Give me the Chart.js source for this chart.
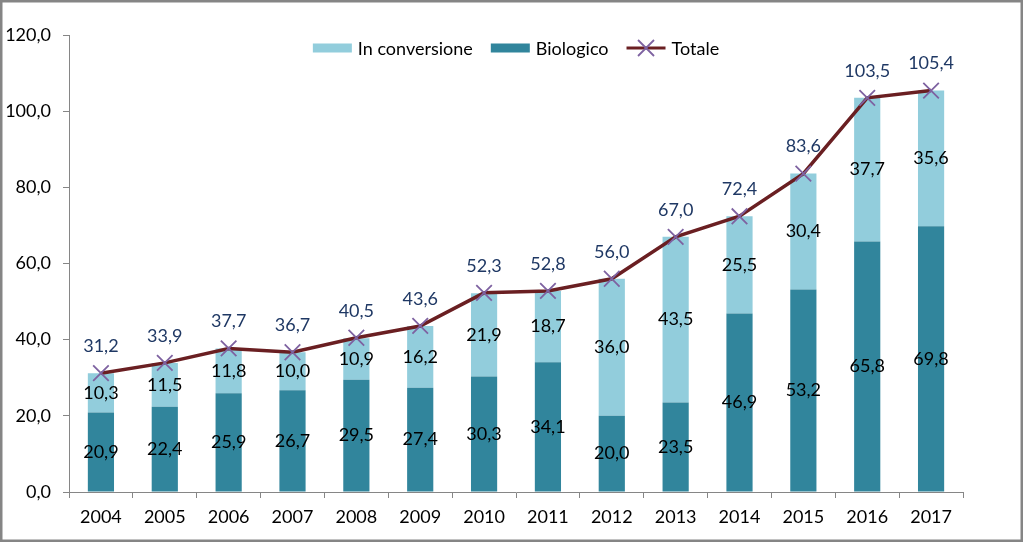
<!DOCTYPE html>
<html>
<head>
<meta charset="utf-8">
<script src="https://cdn.jsdelivr.net/npm/chart.js@4.4.1/dist/chart.umd.min.js"></script>
<style>
html,body{margin:0;padding:0;background:#fff;}
canvas{display:block;}
</style>
</head>
<body>
<canvas id="c" width="1024" height="543"></canvas>
<script>
const categories = ['2004','2005','2006','2007','2008','2009','2010','2011','2012','2013','2014','2015','2016','2017'];
const biologico = [20.9,22.4,25.9,26.7,29.5,27.4,30.3,34.1,20.0,23.5,46.9,53.2,65.8,69.8];
const inConversione = [10.3,11.5,11.8,10.0,10.9,16.2,21.9,18.7,36.0,43.5,25.5,30.4,37.7,35.6];
const totale = [31.2,33.9,37.7,36.7,40.5,43.6,52.3,52.8,56.0,67.0,72.4,83.6,103.5,105.4];
const yTicks = [0,20,40,60,80,100,120];

const FONT = 'Lato';
const FS = 18;
const fmt = v => v.toFixed(1).replace('.', ',');
const C_CONV = '#92CDDC', C_BIO = '#31859C', C_LINE = '#6A1F22', C_MARK = '#7E62A1', C_TOT = '#1F3864';

const labelsPlugin = {
  id: 'labelsPlugin',
  afterDatasetsDraw(chart) {
    const ctx = chart.ctx;
    ctx.save();
    ctx.font = FS + 'px ' + FONT;
    ctx.textAlign = 'center';
    ctx.textBaseline = 'middle';
    [0,1].forEach(di => {
      const meta = chart.getDatasetMeta(di);
      meta.data.forEach((el, i) => {
        const v = chart.data.datasets[di].data[i];
        ctx.fillStyle = '#000';
        ctx.fillText(fmt(v), el.x, (el.y + el.base) / 2);
      });
    });
    const lm = chart.getDatasetMeta(2);
    lm.data.forEach((el, i) => {
      ctx.fillStyle = C_TOT;
      ctx.fillText(fmt(chart.data.datasets[2].data[i]), el.x, el.y - 27);
    });
    ctx.restore();
  },
  afterDraw(chart) {
    const ctx = chart.ctx;
    const ca = chart.chartArea;
    ctx.save();
    ctx.font = FS + 'px ' + FONT;
    ctx.textBaseline = 'middle';
    ctx.textAlign = 'left';
    const items = [
      {text: chart.data.datasets[1].label, type: 'box', color: C_CONV},
      {text: chart.data.datasets[0].label, type: 'box', color: C_BIO},
      {text: chart.data.datasets[2].label, type: 'line', color: C_LINE}
    ];
    const boxW = 39, gapBT = 6, gapItems = 18;
    let total = 0;
    items.forEach((it, k) => { it.w = boxW + gapBT + ctx.measureText(it.text).width; total += it.w + (k ? gapItems : 0); });
    let x = (ca.left + ca.right) / 2 - total / 2;
    const y = 48;
    items.forEach(it => {
      if (it.type === 'box') {
        ctx.fillStyle = it.color;
        ctx.fillRect(x, y - 4.5, boxW, 9);
      } else {
        ctx.strokeStyle = it.color; ctx.lineWidth = 3;
        ctx.beginPath(); ctx.moveTo(x, y); ctx.lineTo(x + boxW, y); ctx.stroke();
        const cx = x + boxW / 2, r = 8;
        ctx.strokeStyle = C_MARK; ctx.lineWidth = 1.8;
        ctx.beginPath();
        ctx.moveTo(cx - r, y - r); ctx.lineTo(cx + r, y + r);
        ctx.moveTo(cx + r, y - r); ctx.lineTo(cx - r, y + r);
        ctx.stroke();
      }
      ctx.fillStyle = '#000';
      ctx.fillText(it.text, x + boxW + gapBT, y + 1);
      x += it.w + gapItems;
    });
    ctx.strokeStyle = '#858585';
    ctx.lineWidth = 2.5;
    ctx.strokeRect(1.25, 1.25, chart.width - 3.5, chart.height - 3.5);
    ctx.restore();
  }
};

new Chart(document.getElementById('c'), {
  data: {
    labels: categories,
    datasets: [
      {type: 'bar', label: 'Biologico', data: biologico, backgroundColor: C_BIO, stack: 's', order: 2, barPercentage: 0.82, categoryPercentage: 0.5},
      {type: 'bar', label: 'In conversione', data: inConversione, backgroundColor: C_CONV, stack: 's', order: 2, barPercentage: 0.82, categoryPercentage: 0.5},
      {type: 'line', label: 'Totale', data: totale, borderColor: C_LINE, borderWidth: 3.5, tension: 0,
       pointStyle: 'crossRot', pointRadius: 11, pointBorderColor: C_MARK, pointBorderWidth: 1.8, pointBackgroundColor: C_MARK, order: 0}
    ]
  },
  options: {
    responsive: false,
    devicePixelRatio: 1,
    animation: false,
    layout: {padding: {left: 0, right: 61, top: 35, bottom: 0}},
    plugins: {legend: {display: false}, tooltip: {enabled: false}},
    scales: {
      x: {
        stacked: true,
        grid: {drawOnChartArea: false, drawTicks: true, tickLength: 6, color: '#868686', offset: true},
        border: {color: '#868686', width: 1},
        ticks: {color: '#000', font: {family: FONT, size: FS}, padding: 8, maxRotation: 0},
        afterFit(s) { s.height = 51; }
      },
      y: {
        stacked: true,
        min: 0, max: 120,
        afterBuildTicks(s) { s.ticks = yTicks.map(v => ({value: v})); },
        grid: {drawOnChartArea: false, drawTicks: true, tickLength: 6, color: '#868686'},
        border: {color: '#868686', width: 1},
        ticks: {color: '#000', font: {family: FONT, size: FS}, padding: 12, callback: v => fmt(v)},
        afterFit(s) { s.width = 69; }
      }
    }
  },
  plugins: [labelsPlugin]
});
</script>
</body>
</html>
